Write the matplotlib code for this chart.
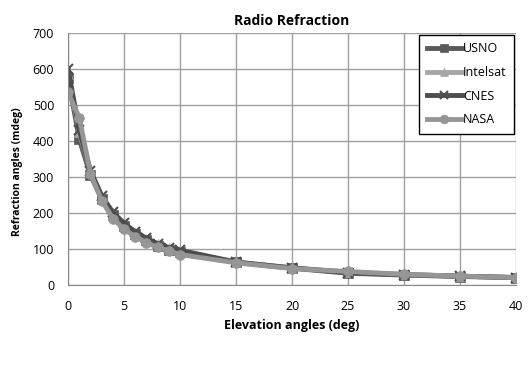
import matplotlib.pyplot as plt
import numpy as np

plt.rcParams['font.family'] = ['Open Sans', 'DejaVu Sans']

elev = [0, 1, 2, 3, 4, 5, 6, 7, 8, 9, 10, 15, 20, 25, 30, 35, 40]
usno = [575, 405, 305, 240, 195, 165, 142, 124, 110, 99, 92, 63, 47, 33, 28, 24, 21]
intelsat = [585, 425, 315, 245, 200, 170, 146, 128, 113, 102, 94, 64, 48, 36, 30, 25, 22]
cnes = [600, 430, 318, 248, 202, 172, 148, 130, 115, 104, 97, 64, 48, 35, 29, 25, 21]
nasa = [535, 465, 310, 235, 185, 155, 135, 118, 105, 95, 85, 62, 46, 38, 30, 25, 21]

names = ["USNO", "Intelsat", "CNES", "NASA"]
series = [usno, intelsat, cnes, nasa]
colors = ["#5a5a5a", "#a6a6a6", "#4d4d4d", "#969696"]
markers = ["s", "^", "x", "o"]

fig = plt.figure(figsize=(5.32, 3.67), dpi=100)
ax = fig.add_axes([0.128, 0.223, 0.842, 0.687])

for name, vals, c, m in zip(names, series, colors, markers):
    ax.plot(elev, vals, color=c, marker=m, markersize=7, linewidth=3.5,
            label=name, markeredgewidth=1.5 if m == "x" else 0.5,
            markeredgecolor=c)

ax.set_xlim(0, 40)
ax.set_ylim(0, 700)
ax.set_xticks(np.arange(0, 41, 5))
ax.set_yticks(np.arange(0, 701, 100))
ax.grid(True, color="#a0a0a0", linewidth=1)
ax.set_axisbelow(True)
for s in ["top", "right"]:
    ax.spines[s].set_visible(False)
ax.spines["left"].set_color("#888888")
ax.spines["bottom"].set_color("#888888")
ax.tick_params(axis="x", length=0, labelsize=9, pad=11)
ax.tick_params(axis="y", length=0, labelsize=9, pad=10)

ax.set_title("Radio Refraction", fontsize=10, fontweight="bold", pad=6)
ax.set_xlabel("Elevation angles (deg)", fontsize=9, fontweight="bold", labelpad=4)
ax.set_ylabel("Refraction angles (mdeg)", fontsize=7.5, fontweight="bold")
ax.yaxis.set_label_coords(-0.1, 0.45)

leg = ax.legend(loc="upper right", fontsize=9, fancybox=False, framealpha=1,
                edgecolor="black", handlelength=2.8, handletextpad=0.1,
                borderaxespad=0.15, labelspacing=0.85, markerscale=0.9,
                borderpad=0.6)
leg.get_frame().set_linewidth(1)

plt.savefig("out.png", dpi=100)
